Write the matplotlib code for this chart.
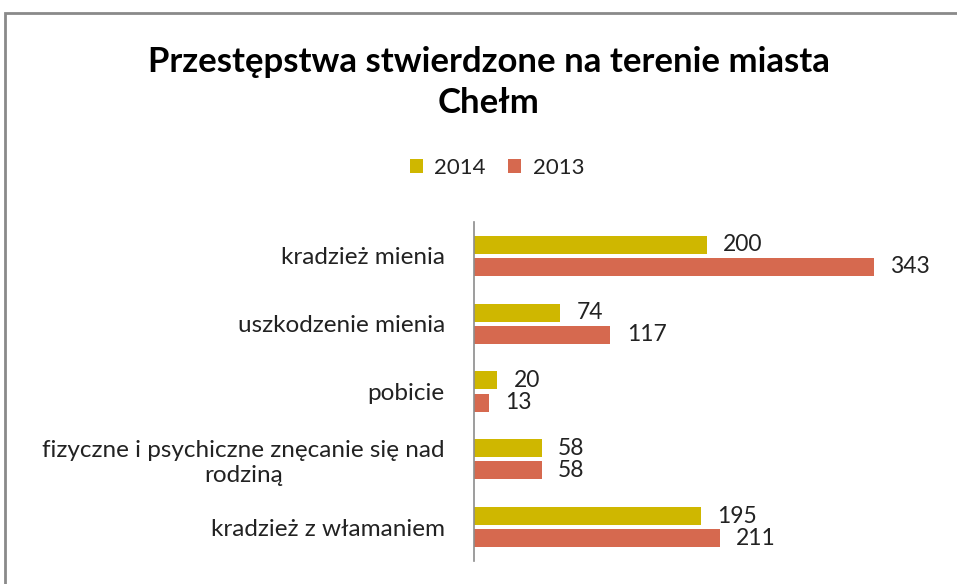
import matplotlib
matplotlib.use('Agg')
import matplotlib.pyplot as plt
from matplotlib.patches import Rectangle
import numpy as np

categories = ['kradzież mienia', 'uszkodzenie mienia', 'pobicie',
              'fizyczne i psychiczne znęcanie się nad\nrodziną',
              'kradzież z włamaniem']
vals_2014 = [200, 74, 20, 58, 195]
vals_2013 = [343, 117, 13, 58, 211]

YELLOW = '#CFB700'
RED = '#D6694F'
FONT = 'Lato'

fig = plt.figure(figsize=(9.57, 5.84), dpi=100)
fig.patch.set_facecolor('white')

# outer frame (chart area border, cut off on right/bottom)
fig.add_artist(Rectangle((5 / 957, -0.05), 1.0, 1 - 13 / 584 + 0.05,
                         transform=fig.transFigure, fill=False,
                         edgecolor='#8a8a8a', linewidth=2))

ax = fig.add_axes([474 / 957, 23 / 584, 466 / 957, 339 / 584])

y = np.arange(len(categories))
h = 0.265
off = 0.163
b14 = ax.barh(y - off, vals_2014, height=h, color=YELLOW)
b13 = ax.barh(y + off, vals_2013, height=h, color=RED)

for bars, vals in ((b14, vals_2014), (b13, vals_2013)):
    for b, v in zip(bars, vals):
        ax.text(v + 14, b.get_y() + b.get_height() / 2, str(v),
                va='center', ha='left', fontsize=16.5, family=FONT,
                color='#222222')

ax.set_xlim(0, 400)
ax.set_ylim(len(categories) - 0.5, -0.5)
ax.set_yticks(y)
ax.set_yticklabels(categories, fontsize=17.5, family=FONT, color='#222222')
for t in ax.get_yticklabels():
    t.set_multialignment('center')
ax.tick_params(axis='y', length=0, pad=21)
ax.set_xticks([])
for s in ('top', 'right', 'bottom'):
    ax.spines[s].set_visible(False)
ax.spines['left'].set_color('#8c8c8c')
ax.spines['left'].set_linewidth(1.2)

fig.text(489 / 957, 1 - 62 / 584, 'Przestępstwa stwierdzone na terenie miasta',
         ha='center', va='center', fontsize=25, fontweight='bold', family=FONT)
fig.text(489 / 957, 1 - 103 / 584, 'Chełm',
         ha='center', va='center', fontsize=25, fontweight='bold', family=FONT)

leg = fig.legend([b14, b13], ['2014', '2013'], loc='center',
                 bbox_to_anchor=(497 / 957, 1 - 168 / 584), ncol=2,
                 frameon=False, prop={'family': FONT, 'size': 16},
                 handlelength=0.6, handleheight=0.6, handletextpad=0.5,
                 columnspacing=1.0)
for t in leg.get_texts():
    t.set_color('#222222')

fig.savefig('out.png', dpi=100)
